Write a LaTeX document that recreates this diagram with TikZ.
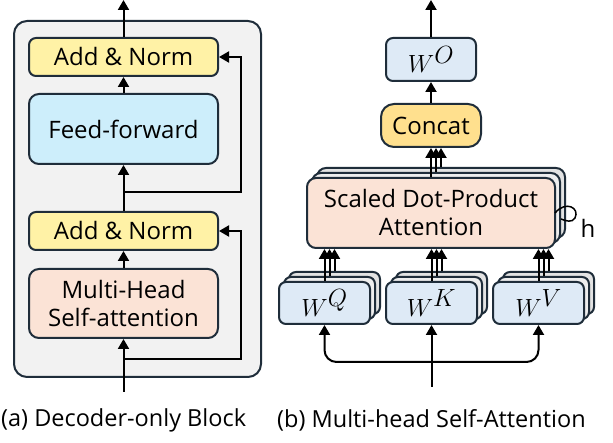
\documentclass[tikz,border=0pt]{standalone}
\usepackage{amsmath}
\usepackage{fontspec}
\setmainfont{Open Sans}
\usepackage{tikz}
\usetikzlibrary{arrows.meta,calc,positioning}
\definecolor{bord}{HTML}{1F2D3A}
\definecolor{panel}{HTML}{F2F2F2}
\definecolor{normy}{HTML}{FFF2A6}
\definecolor{ffblue}{HTML}{CDEEFB}
\definecolor{attn}{HTML}{FBE3D6}
\definecolor{wblue}{HTML}{DEEAF6}
\definecolor{concy}{HTML}{FFE08E}
\definecolor{layer}{HTML}{E3E3E3}

\begin{document}
\begin{tikzpicture}[x=1pt,y=-1pt]
	\tikzstyle{box} = [draw = bord, line width = 2pt, rounded corners = 7pt, align = center, inner sep = 0pt, font = \fontsize{24}{28}\selectfont]
	\tikzstyle{arr} = [line width = 2pt, -{Triangle[width=11pt,length=10pt]}]
	\tikzstyle{wbox} = [box, fill = wblue, minimum width = 91pt, minimum height = 42pt, font = \fontsize{40}{42}\selectfont]
	\tikzstyle{back} = [box, fill = layer, minimum width = 91pt, minimum height = 42pt]
	\tikzstyle{captxt} = [anchor = west, inner sep = 0pt, font = \fontsize{23.5}{27}\selectfont]
\useasboundingbox (0,0) rectangle (613,443);
% (a) decoder-only block
\draw[bord, fill = panel, line width = 2pt, rounded corners = 13pt] (14,21) rectangle (261,377);
\node[box, fill = normy, minimum width = 189pt, minimum height = 38pt] (an2) at (123.5,57) {Add \& Norm};
\node[box, fill = ffblue, minimum width = 189pt, minimum height = 70pt, rounded corners = 10pt] (ff) at (123.5,129) {Feed-forward};
\node[box, fill = normy, minimum width = 189pt, minimum height = 38pt] (an1) at (123.5,231) {Add \& Norm};
\node[box, fill = attn, minimum width = 189pt, minimum height = 69pt, rounded corners = 10pt] (mh) at (123.5,303.5) {Multi-Head\\Self-attention};
\coordinate (in1) at (123.5,392);
\coordinate (out1) at (123.5,0);
\coordinate (r1) at (123.5,359);
\coordinate (c1) at (241,231);
\coordinate (r2) at (123.5,192);
\coordinate (c2) at (241,57);
	\path[draw][arr] (in1) -- (mh);
	\path[draw][arr] (mh) -- (an1);
	\path[draw][arr] (an1) -- (ff);
	\path[draw][arr] (ff) -- (an2);
	\path[draw][arr] (an2) -- (out1);
	\path[draw][arr] (r1) -| (c1) -- (an1);
	\path[draw][arr] (r2) -| (c2) -- (an2);
% (b) multi-head self-attention
\node[box, fill = wblue, minimum width = 90pt, minimum height = 43pt, font = \fontsize{40}{42}\selectfont] (wo) at (431,59.5) {$W^O$};
\node[box, fill = concy, minimum width = 100pt, minimum height = 43pt, rounded corners = 13pt] (cc) at (431,125.5) {Concat};
\node[back, minimum width = 248pt, minimum height = 70pt, rounded corners = 9pt] (sd3) at (441,203) {};
\node[back, minimum width = 248pt, minimum height = 70pt, rounded corners = 9pt, fill = layer!60] (sd2) at (436,208) {};
\node[box, fill = attn, minimum width = 248pt, minimum height = 70pt, rounded corners = 9pt] (sd) at (431,213) {Scaled Dot-Product\\Attention};
\node[back] (q3) at (334.5,293) {};
\node[back, fill = layer!60] (q2) at (329.5,298) {};
\node[wbox] (q) at (324.5,303) {$W^Q$};
\node[back] (k3) at (441.5,293) {};
\node[back, fill = layer!60] (k2) at (436.5,298) {};
\node[wbox] (k) at (431.5,303) {$W^K$};
\node[back] (v3) at (548.5,293) {};
\node[back, fill = layer!60] (v2) at (543.5,298) {};
\node[wbox] (v) at (538.5,303) {$W^V$};
\node[font = \fontsize{24}{28}\selectfont] (h) at (588,228) {h};
\coordinate (in2) at (431.5,387);
\coordinate (br) at (431.5,362);
\coordinate (out2) at (431,0);
	\path[draw][arr] (wo) -- (out2);
	\path[draw][arr] (cc) -- (wo);
	\path[draw][arr] (sd.north) -- (sd.north |- cc.south);
	\path[draw][arr] (sd2.north) -- (sd2.north |- cc.south);
	\path[draw][arr] (sd3.north) -- (sd3.north |- cc.south);
	\path[draw][arr] (q.north) -- (q.north |- sd.south);
	\path[draw][arr] (q2.north) -- (q2.north |- sd.south);
	\path[draw][arr] (q3.north) -- (q3.north |- sd.south);
	\path[draw][arr] (k.north) -- (k.north |- sd.south);
	\path[draw][arr] (k2.north) -- (k2.north |- sd.south);
	\path[draw][arr] (k3.north) -- (k3.north |- sd.south);
	\path[draw][arr] (v.north) -- (v.north |- sd.south);
	\path[draw][arr] (v2.north) -- (v2.north |- sd.south);
	\path[draw][arr] (v3.north) -- (v3.north |- sd.south);
	\path[draw][arr] (in2) -- (k);
	\path[draw][arr, rounded corners = 12pt] (br) -| (q);
	\path[draw][arr, rounded corners = 12pt] (br) -| (v);
	\path[draw][line width = 1.5pt] ($(sd.east)+(-1,0)$) .. controls (566,200) and (580,208) .. (575,218) .. controls (572,223) and (566,221) .. (561,219);
% captions
\node[captxt] (capa) at (1,420) {(a) Decoder-only Block};
\node[captxt] (capb) at (277,420) {(b) Multi-head Self-Attention};
\end{tikzpicture}
\end{document}
